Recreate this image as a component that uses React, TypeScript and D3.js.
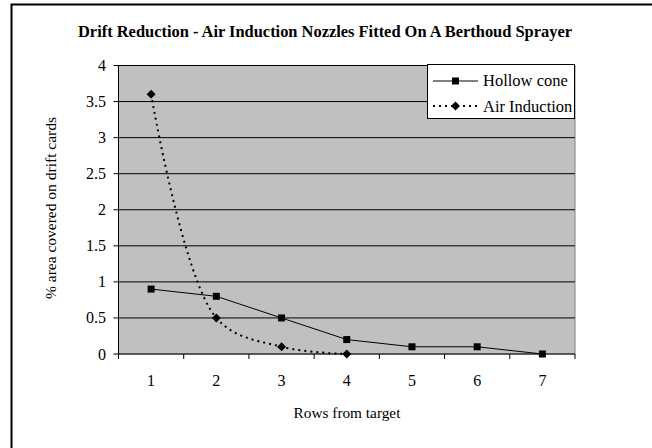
import React from "react";
import * as d3 from "d3";

const categories = [1, 2, 3, 4, 5, 6, 7];
const hollowCone = [0.9, 0.8, 0.5, 0.2, 0.1, 0.1, 0.0];
const airInduction = [3.6, 0.5, 0.1, 0.0];
const yTicks = [0, 0.5, 1, 1.5, 2, 2.5, 3, 3.5, 4];

const W = 652, H = 448;
const L = 118.5, R = 575, T = 65.5, B = 354;
const font = "'Liberation Serif', 'Times New Roman', serif";

export default function App() {
  const x = d3.scaleBand<number>().domain(categories).range([L, R]);
  const xc = (c: number) => (x(c) as number) + x.bandwidth() / 2;
  const y = d3.scaleLinear().domain([0, 4]).range([B, T]);

  const hcData = hollowCone.map((v, i) => [xc(categories[i]), y(v)] as [number, number]);
  const aiData = airInduction.map((v, i) => [xc(categories[i]), y(v)] as [number, number]);
  const line = d3.line();
  const smooth = d3.line().curve(d3.curveCatmullRom.alpha(0.5));

  const square = (cx: number, cy: number, k: string) => (
    <rect key={k} x={cx - 3.5} y={cy - 3.5} width={7} height={7} fill="#000" />
  );
  const diamond = (cx: number, cy: number, k: string) => (
    <path key={k} d={`M${cx},${cy - 4.5}L${cx + 4.5},${cy}L${cx},${cy + 4.5}L${cx - 4.5},${cy}Z`} fill="#000" />
  );

  const bounds = [...categories.map((c) => x(c) as number), R];

  return (
    <svg width={W} height={H} style={{ position: "absolute", left: 0, top: 0 }}>
      <rect x={0} y={0} width={W} height={H} fill="#fff" />
      <rect x={11.5} y={4.5} width={W + 10} height={H + 10} fill="#fff" stroke="#000" strokeWidth={2} />
      <text x={325} y={37} textAnchor="middle" fontFamily={font} fontWeight="bold" fontSize={16}
        textLength={494} lengthAdjust="spacingAndGlyphs">
        Drift Reduction - Air Induction Nozzles Fitted On A Berthoud Sprayer
      </text>
      <rect x={L} y={T} width={R - L} height={B - T} fill="#c0c0c0" stroke="#808080" strokeWidth={1} />
      {yTicks.filter((t) => t > 0).map((t) => (
        <line key={"g" + t} x1={L} x2={R} y1={y(t)} y2={y(t)} stroke="#000" strokeWidth={1} />
      ))}
      {/* y axis */}
      <line x1={L} x2={L} y1={T} y2={B} stroke="#000" />
      {yTicks.map((t) => (
        <g key={"y" + t}>
          <line x1={L - 5} x2={L} y1={y(t)} y2={y(t)} stroke="#000" />
          <text x={106} y={y(t) + 5.5} textAnchor="end" fontFamily={font} fontSize={16}>
            {t}
          </text>
        </g>
      ))}
      {/* x axis */}
      <line x1={L} x2={R} y1={B} y2={B} stroke="#000" />
      {bounds.map((b, i) => (
        <line key={"xt" + i} x1={b} x2={b} y1={B} y2={B + 5} stroke="#000" />
      ))}
      {categories.map((c) => (
        <text key={"xl" + c} x={xc(c)} y={386} textAnchor="middle" fontFamily={font} fontSize={16}>
          {c}
        </text>
      ))}
      <text x={347} y={418} textAnchor="middle" fontFamily={font} fontSize={15.3}>
        Rows from target
      </text>
      <text
        transform={`translate(56,${208}) rotate(-90)`}
        textAnchor="middle"
        fontFamily={font}
        fontSize={15.5}
      >
        % area covered on drift cards
      </text>
      {/* series */}
      <path d={line(hcData) || ""} fill="none" stroke="#000" strokeWidth={1} />
      {hcData.map(([cx, cy], i) => square(cx, cy, "s" + i))}
      <path d={smooth(aiData) || ""} fill="none" stroke="#000" strokeWidth={2} strokeDasharray="2,4" />
      {aiData.map(([cx, cy], i) => diamond(cx, cy, "d" + i))}
      {/* legend */}
      <rect x={427.5} y={64.5} width={147} height={54} fill="#fff" stroke="#000" strokeWidth={1} />
      <line x1={433} x2={478} y1={81} y2={81} stroke="#000" />
      {square(455.5, 81, "ls")}
      <text x={483} y={86} fontFamily={font} fontSize={16.5}>Hollow cone</text>
      <line x1={433} x2={478} y1={106} y2={106} stroke="#000" strokeWidth={2} strokeDasharray="2,4" />
      {diamond(455.5, 106, "ld")}
      <text x={483} y={112} fontFamily={font} fontSize={16.5}>Air Induction</text>
    </svg>
  );
}
